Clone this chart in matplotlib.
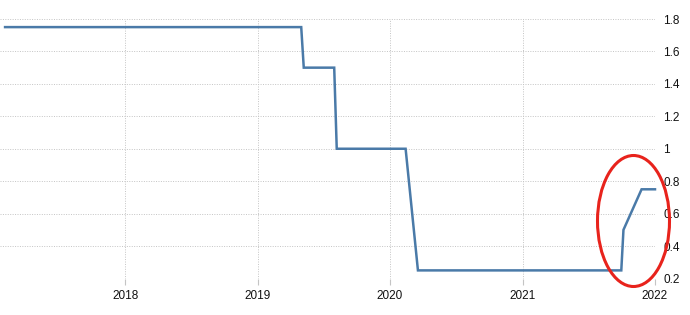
import matplotlib
matplotlib.use("Agg")
import matplotlib.pyplot as plt
import matplotlib.dates as mdates
from matplotlib.patches import Ellipse
from matplotlib.ticker import FuncFormatter, FixedLocator
import pandas as pd

# Data (rate path vertices)
dates = ["2017-02-03", "2019-05-01", "2019-05-08", "2019-07-31", "2019-08-07",
         "2020-02-13", "2020-03-18", "2021-09-30", "2021-10-06", "2021-11-25",
         "2022-01-01"]
rates = [1.75, 1.75, 1.5, 1.5, 1.0, 1.0, 0.25, 0.25, 0.5, 0.75, 0.75]

year_ticks = ["2018-01-01", "2019-01-01", "2020-01-01", "2021-01-01", "2022-01-01"]
year_labels = ["2018", "2019", "2020", "2021", "2022"]
y_ticks = [0.2, 0.4, 0.6, 0.8, 1.0, 1.2, 1.4, 1.6, 1.8]

plt.rcParams['font.family'] = ['Liberation Sans', 'DejaVu Sans']

fig = plt.figure(figsize=(6.9, 3.15), dpi=100)
W, H = 690, 315
ax = fig.add_axes([0 / W, (H - 278.5) / H, 655 / W, (278.5 - 19) / H])

x = pd.to_datetime(dates)
ax.plot(x, rates, color="#4a7aa8", lw=1.8, solid_joinstyle="miter", zorder=3, clip_on=False)

ax.set_xlim(pd.Timestamp("2017-01-20"), pd.Timestamp("2022-01-01"))
ax.set_ylim(0.2, 1.8)

xt = mdates.date2num(pd.to_datetime(year_ticks))
ax.xaxis.set_major_locator(FixedLocator(xt))
ax.set_xticklabels(year_labels)
ax.set_yticks(y_ticks)
ax.yaxis.set_major_formatter(FuncFormatter(lambda v, p: "%g" % round(v, 2)))
ax.yaxis.tick_right()

for s in ax.spines.values():
    s.set_visible(False)

ax.grid(True, which="major", axis="both", color="#c4c4c4", linestyle=(0, (1, 1.5)), lw=0.7, zorder=0)
ax.tick_params(axis="x", length=4, color="#c4c4c4", width=0.8, pad=4, labelsize=8.5, labelcolor="#111111")
ax.tick_params(axis="y", length=0, pad=6, labelsize=8.5, labelcolor="#111111")
for lbl in ax.get_yticklabels():
    lbl.set_horizontalalignment("left")

# red highlight ellipse (figure pixel coordinates)
cx, cy, ew, eh = 633.5, 221, 72, 131
ell = Ellipse((cx / W, (H - cy) / H), ew / W, eh / H, transform=fig.transFigure,
              fill=False, edgecolor="#e8231c", lw=2.2, zorder=10)
fig.patches.append(ell)

fig.savefig("out.png", dpi=100, facecolor="white")
